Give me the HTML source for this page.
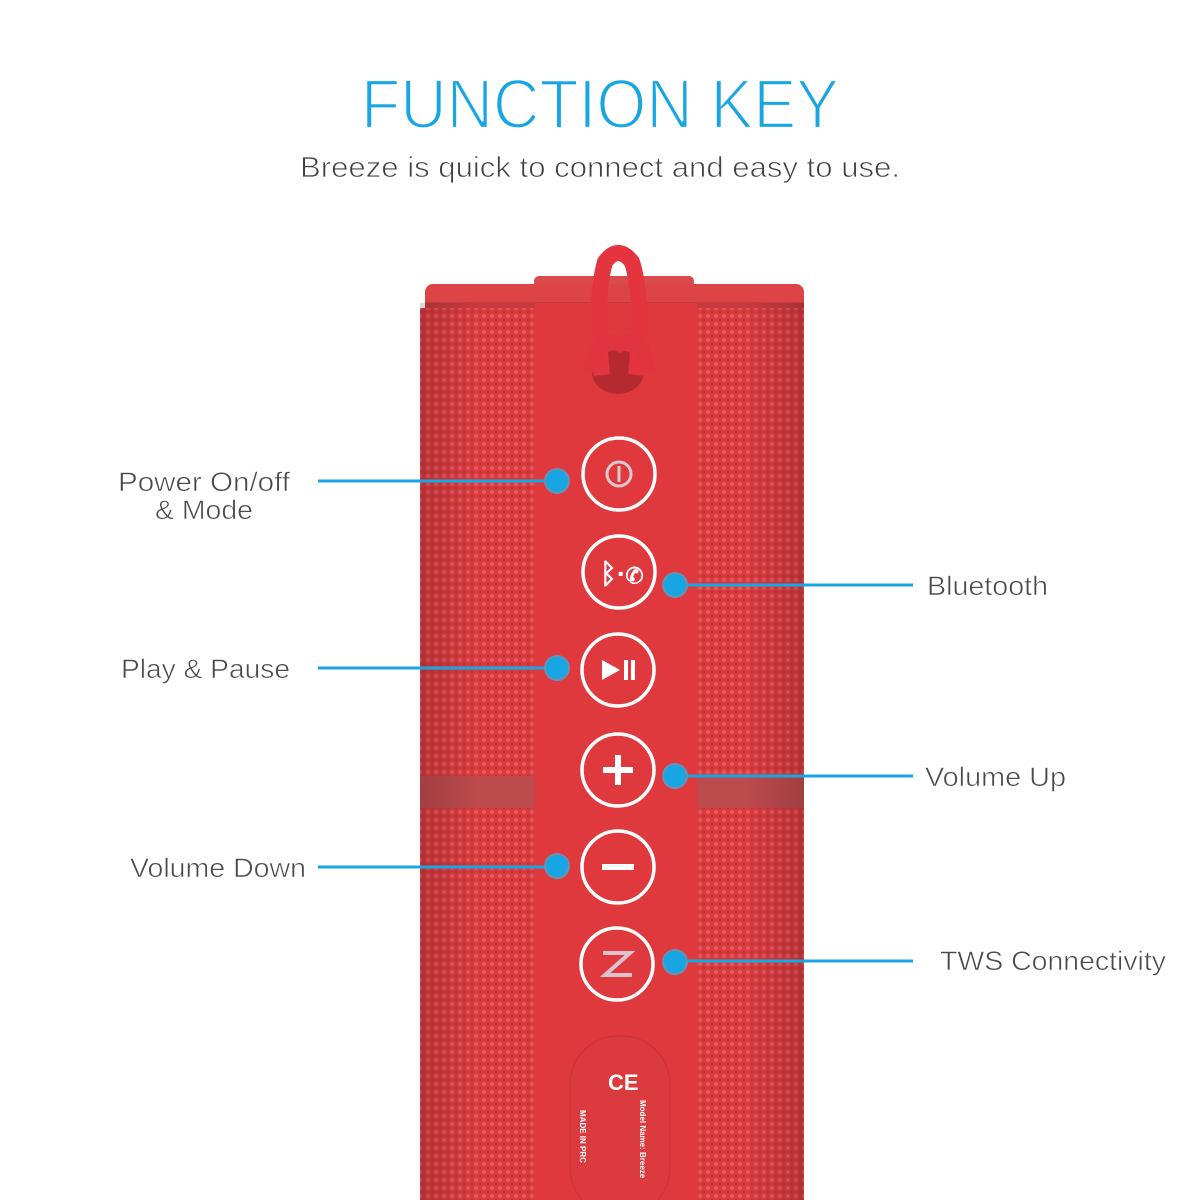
<!DOCTYPE html>
<html><head><meta charset="utf-8"><style>html,body{margin:0;padding:0;background:#fff}svg{display:block}</style></head>
<body>
<svg width="1200" height="1200" viewBox="0 0 1200 1200" xmlns="http://www.w3.org/2000/svg" font-family="Liberation Sans, sans-serif">
<defs>
<pattern id="fab" width="8" height="8" patternUnits="userSpaceOnUse">
<rect width="8" height="8" fill="#d8393d"/>
<circle cx="4" cy="4" r="2.2" fill="#e4575a"/>
<circle cx="0" cy="0" r="1" fill="#b52f35"/><circle cx="8" cy="8" r="1" fill="#b52f35"/><circle cx="8" cy="0" r="1" fill="#b52f35"/><circle cx="0" cy="8" r="1" fill="#b52f35"/>
</pattern>
<linearGradient id="shade" x1="0" x2="1" y1="0" y2="0">
<stop offset="0" stop-color="#000" stop-opacity="0.15"/><stop offset="0.15" stop-color="#000" stop-opacity="0"/><stop offset="0.85" stop-color="#000" stop-opacity="0"/><stop offset="1" stop-color="#000" stop-opacity="0.15"/>
</linearGradient>
</defs>
<text x="600" y="128" text-anchor="middle" font-size="70" fill="#18a5e3" stroke="#fff" stroke-width="2.2" textLength="478" lengthAdjust="spacingAndGlyphs">FUNCTION KEY</text>
<text x="600" y="177" text-anchor="middle" font-size="29" fill="#404040" stroke="#fff" stroke-width="0.8" textLength="600" lengthAdjust="spacingAndGlyphs">Breeze is quick to connect and easy to use.</text>

<!-- top cap -->
<rect x="534" y="276" width="160" height="12" rx="5" fill="#d94a4c"/>
<rect x="425" y="284" width="379" height="28" rx="8" fill="#dc4446"/>
<rect x="425" y="302" width="379" height="10" fill="#c53a3e"/>
<rect x="420" y="308" width="384" height="470" fill="url(#fab)"/>
<rect x="420" y="806" width="384" height="394" fill="url(#fab)"/>
<rect x="420" y="776" width="384" height="32" fill="#bd4a4d"/>
<rect x="420" y="303" width="384" height="897" fill="url(#shade)"/>
<rect x="535" y="303" width="162" height="897" fill="#e0393d"/>
<!-- cord -->
<ellipse cx="618" cy="372" rx="26" ry="22" fill="#b42a30"/>
<path d="M602 375 Q594 300 605 262 Q618 244 632 262 Q644 300 636 375" fill="none" stroke="#e4343e" stroke-width="16"/>
<path d="M590 372 Q600 330 620 345 Q644 330 648 372" fill="none" stroke="#e03440" stroke-width="14"/>
<!-- buttons -->
<g fill="none" stroke="#fff" stroke-width="3.5">
<circle cx="619" cy="474" r="36"/>
<circle cx="619" cy="572" r="36"/>
<circle cx="618" cy="670" r="36"/>
<circle cx="618" cy="770" r="36"/>
<circle cx="618" cy="867" r="36"/>
<circle cx="617" cy="964" r="36"/>
</g>
<circle cx="619" cy="474" r="12" fill="none" stroke="#d9c9cf" stroke-width="3"/>
<line x1="619" y1="466" x2="619" y2="482" stroke="#d9c9cf" stroke-width="3"/>
<text x="600" y="583" font-size="28" fill="#fff" font-weight="bold">ᛒ·✆</text>
<path d="M602 660 L620 670 L602 680 Z" fill="#fff"/><rect x="624" y="660" width="4" height="20" fill="#fff"/><rect x="631" y="660" width="4" height="20" fill="#fff"/>
<path d="M603 770 H633 M618 755 V785" stroke="#fff" stroke-width="6"/>
<path d="M602 867 H634" stroke="#fff" stroke-width="6"/>
<path d="M603 953 H630 L605 975 H632" fill="none" stroke="#d9c3cc" stroke-width="4"/>
<rect x="570" y="1036" width="100" height="180" rx="48" fill="#db3a3e" stroke="#c4333a"/>
<text x="608" y="1090" font-size="22" fill="#fff" font-weight="bold">CE</text>
<text x="640" y="1100" font-size="8" fill="#fff" font-weight="bold" transform="rotate(90 640 1100)">Model Name: Breeze</text>
<text x="580" y="1110" font-size="8" fill="#fff" font-weight="bold" transform="rotate(90 580 1110)">MADE IN PRC</text>
<g stroke="#18a5e3" stroke-width="3">
<line x1="318" y1="481" x2="557" y2="481"/>
<line x1="318" y1="668" x2="557" y2="668"/>
<line x1="318" y1="867" x2="557" y2="867"/>
<line x1="675" y1="585" x2="913" y2="585"/>
<line x1="675" y1="776" x2="913" y2="776"/>
<line x1="675" y1="961" x2="913" y2="961"/>
</g>
<g fill="#18a5e3" stroke="#6d8fb0" stroke-width="2">
<circle cx="557" cy="481" r="12"/><circle cx="557" cy="668" r="12"/><circle cx="557" cy="866" r="12"/>
<circle cx="675" cy="585" r="12"/><circle cx="675" cy="776" r="12"/><circle cx="675" cy="962" r="12"/>
</g>
<g font-size="27" fill="#4a4a4a" stroke="#fff" stroke-width="0.6" lengthAdjust="spacingAndGlyphs">
<text x="118" y="491" textLength="172" lengthAdjust="spacingAndGlyphs">Power On/off</text>
<text x="155" y="519" textLength="98" lengthAdjust="spacingAndGlyphs">&amp; Mode</text>
<text x="121" y="678" textLength="169" lengthAdjust="spacingAndGlyphs">Play &amp; Pause</text>
<text x="130" y="877" textLength="176" lengthAdjust="spacingAndGlyphs">Volume Down</text>
<text x="927" y="595" textLength="121" lengthAdjust="spacingAndGlyphs">Bluetooth</text>
<text x="925" y="786" textLength="141" lengthAdjust="spacingAndGlyphs">Volume Up</text>
<text x="940" y="970" textLength="226" lengthAdjust="spacingAndGlyphs">TWS Connectivity</text>
</g>
</svg>
</body></html>
